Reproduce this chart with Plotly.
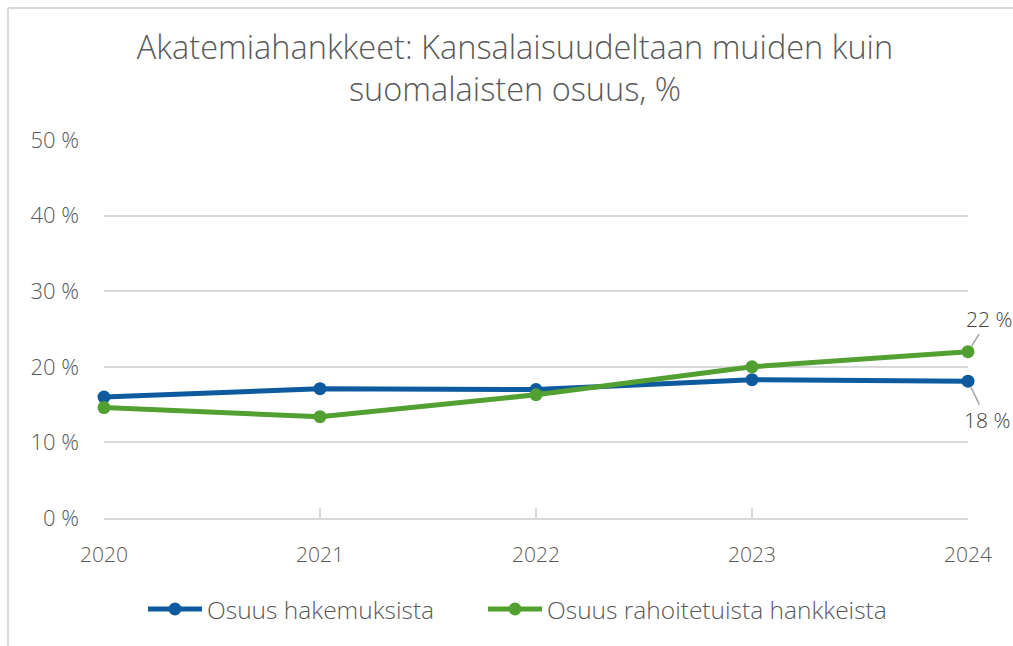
import plotly.graph_objects as go

years = [2020, 2021, 2022, 2023, 2024]
year_labels = ["2020", "2021", "2022", "2023", "2024"]
hakemukset = [16.0, 17.1, 17.0, 18.3, 18.1]
rahoitetut = [14.6, 13.4, 16.3, 20.0, 22.0]
y_ticks = [0, 10, 20, 30, 40, 50]
y_tick_labels = ["0 %", "10 %", "20 %", "30 %", "40 %", "50 %"]
series_names = ["Osuus hakemuksista", "Osuus rahoitetuista hankkeista"]
title_text = "Akatemiahankkeet: Kansalaisuudeltaan muiden kuin<br>suomalaisten osuus, %"

BLUE = "#0E5A9E"
GREEN = "#52A032"
GRID = "#D9D9D9"
TXT = "#595959"
FONT = "Open Sans"

fig = go.Figure()
fig.add_trace(go.Scatter(x=years, y=hakemukset, name=series_names[0], mode="lines+markers",
                         line=dict(color=BLUE, width=5), marker=dict(size=13, color=BLUE),
                         cliponaxis=False, legend="legend"))
fig.add_trace(go.Scatter(x=years, y=rahoitetut, name=series_names[1], mode="lines+markers",
                         line=dict(color=GREEN, width=5), marker=dict(size=13, color=GREEN),
                         cliponaxis=False, legend="legend2"))

fig.add_annotation(x=years[-1], y=rahoitetut[-1], text=f"{rahoitetut[-1]:.0f} %", showarrow=True,
                   arrowhead=0, arrowwidth=1.5, arrowcolor="#A6A6A6", ax=21, ay=-33, standoff=7,
                   font=dict(family=FONT, size=21, color="#404040", weight=300))
fig.add_annotation(x=years[-1], y=hakemukset[-1], text=f"{hakemukset[-1]:.0f} %", showarrow=True,
                   arrowhead=0, arrowwidth=1.5, arrowcolor="#A6A6A6", ax=19, ay=39, standoff=7,
                   font=dict(family=FONT, size=21, color="#404040", weight=300))

# outer chart border (top and left edges visible)
fig.add_shape(type="line", xref="paper", yref="paper", x0=-0.1111, x1=1.1, y0=1.349, y1=1.349,
              line=dict(color=GRID, width=2))
fig.add_shape(type="line", xref="paper", yref="paper", x0=-0.1111, x1=-0.1111, y0=1.349, y1=-0.4,
              line=dict(color=GRID, width=2))

legend_font = dict(family=FONT, size=24.5, color=TXT, weight=300)
fig.update_layout(
    width=1013, height=646,
    margin=dict(l=104, r=45, t=140, b=128),
    paper_bgcolor="white", plot_bgcolor="white",
    font=dict(family=FONT, color=TXT, weight=300),
    title=dict(text=title_text, x=515/1013, xanchor="center", y=1-59/646, yanchor="middle",
               font=dict(family=FONT, size=32.5, color=TXT, weight=300)),
    showlegend=True,
    legend=dict(orientation="h", x=(143-104)/864, xanchor="left", y=-0.241, yanchor="middle",
                itemwidth=54, font=legend_font),
    legend2=dict(orientation="h", x=(483-104)/864, xanchor="left", y=-0.241, yanchor="middle",
                 itemwidth=54, font=legend_font),
    xaxis=dict(range=[2020, 2024], tickvals=years, ticktext=year_labels, showgrid=False,
               showline=True, linecolor=GRID, linewidth=1.5, ticks="inside", ticklen=10,
               tickcolor=GRID, tickwidth=1.5, zeroline=False, ticklabelstandoff=17,
               tickfont=dict(family=FONT, size=21, color=TXT, weight=300)),
    yaxis=dict(range=[0, 50], tickvals=y_ticks, ticktext=y_tick_labels, showgrid=True,
               gridcolor=GRID, gridwidth=1.5, zeroline=False, showline=False,
               ticklabelstandoff=24, tickfont=dict(family=FONT, size=22, color=TXT, weight=300)),
)

fig.write_html("out.html", post_script="document.body.style.margin='0';",
               config={"displayModeBar": False})
